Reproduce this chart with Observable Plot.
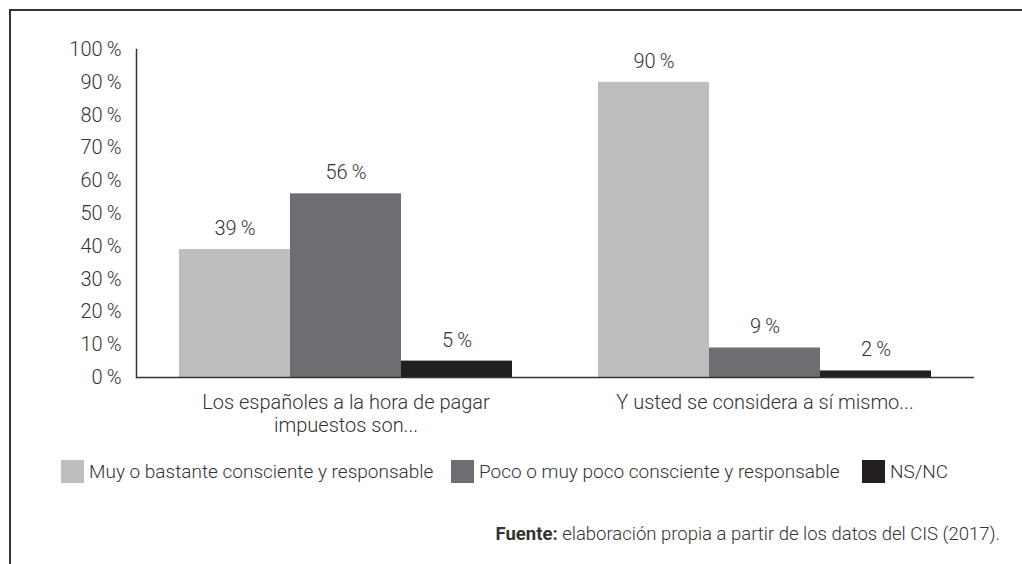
<!DOCTYPE html>
<html>
<head>
<meta charset="utf-8">
<script src="https://cdn.jsdelivr.net/npm/d3@7"></script>
<script src="https://cdn.jsdelivr.net/npm/@observablehq/plot@0.6"></script>
<style>
  html, body { margin: 0; padding: 0; background: #fff; }
  body { width: 1022px; height: 564px; position: relative; overflow: hidden;
         font-family: Roboto, "Liberation Sans", Arial, sans-serif; font-weight: 300; color: #333; }
  #frame { position: absolute; left: 9px; top: 9px; width: 1020px; height: 560px;
           border-left: 2px solid #333; border-top: 2px solid #333; pointer-events: none; }
  #chart { position: absolute; left: 0; top: 0; }
  .legend-item { position: absolute; top: 460px; display: flex; align-items: center; font-size: 19px; line-height: 23px; white-space: nowrap; }
  .legend-item .sw { width: 23px; height: 23px; margin-right: 5px; }
  #caption { position: absolute; right: 22px; top: 523px; font-size: 18.5px; white-space: nowrap; }
  #caption b { font-weight: 700; }
</style>
</head>
<body>
<div id="chart"></div>
<div id="legend"></div>
<div id="caption"><b>Fuente:</b> elaboración propia a partir de los datos del CIS (2017).</div>
<div id="frame"></div>
<script>
const groups = ["Los españoles a la hora de pagar\nimpuestos son...", "Y usted se considera a sí mismo..."];
const series = ["Muy o bastante consciente y responsable", "Poco o muy poco consciente y responsable", "NS/NC"];
const valuesGroup1 = [39, 56, 5];
const valuesGroup2 = [90, 9, 2];
const colors = ["#BCBEC0", "#6D6E71", "#231F20"];
const yTicks = [0, 10, 20, 30, 40, 50, 60, 70, 80, 90, 100];

const data = [];
[valuesGroup1, valuesGroup2].forEach((vals, gi) => {
  vals.forEach((v, si) => data.push({group: groups[gi], series: series[si], value: v}));
});

const pct = d => d + "\u2009%";

const chart = Plot.plot({
  width: 1022,
  height: 445,
  marginLeft: 135,
  marginRight: 48,
  marginTop: 49,
  marginBottom: 68,
  style: {fontFamily: "Roboto, 'Liberation Sans', Arial, sans-serif", fontWeight: 300, fontSize: "20px", color: "#333", background: "transparent"},
  fx: {domain: groups, padding: 0, label: null, axis: null},
  x: {domain: series, paddingInner: 0, paddingOuter: 0.3727, axis: null},
  y: {domain: [0, 100], axis: null},
  color: {domain: series, range: colors},
  marks: [
    Plot.barY(data, {fx: "group", x: "series", y: "value", fill: "series"}),
    Plot.text(data, {fx: "group", x: "series", y: "value", text: d => pct(d.value), dy: -21, fontSize: 20, fill: "#333"}),
    Plot.axisY({ticks: yTicks, tickSize: 0, tickPadding: 15, tickFormat: pct, label: null, fontSize: 20}),
    Plot.axisFx({anchor: "bottom", tickSize: 0, tickPadding: 15, label: null, lineHeight: 1.15, fontSize: 20}),
    Plot.ruleY([0], {stroke: "#333", strokeWidth: 1.5}),
    Plot.frame({anchor: "left", facetAnchor: "left", stroke: "#333", strokeWidth: 1.5})
  ]
});
document.getElementById("chart").appendChild(chart);

const legend = document.getElementById("legend");
const legendLeft = [61, 451, 862];
series.forEach((s, i) => {
  const item = document.createElement("div");
  item.className = "legend-item";
  item.style.left = legendLeft[i] + "px";
  const sw = document.createElement("span");
  sw.className = "sw";
  sw.style.background = colors[i];
  const t = document.createElement("span");
  t.textContent = s;
  item.appendChild(sw);
  item.appendChild(t);
  legend.appendChild(item);
});
</script>
</body>
</html>
